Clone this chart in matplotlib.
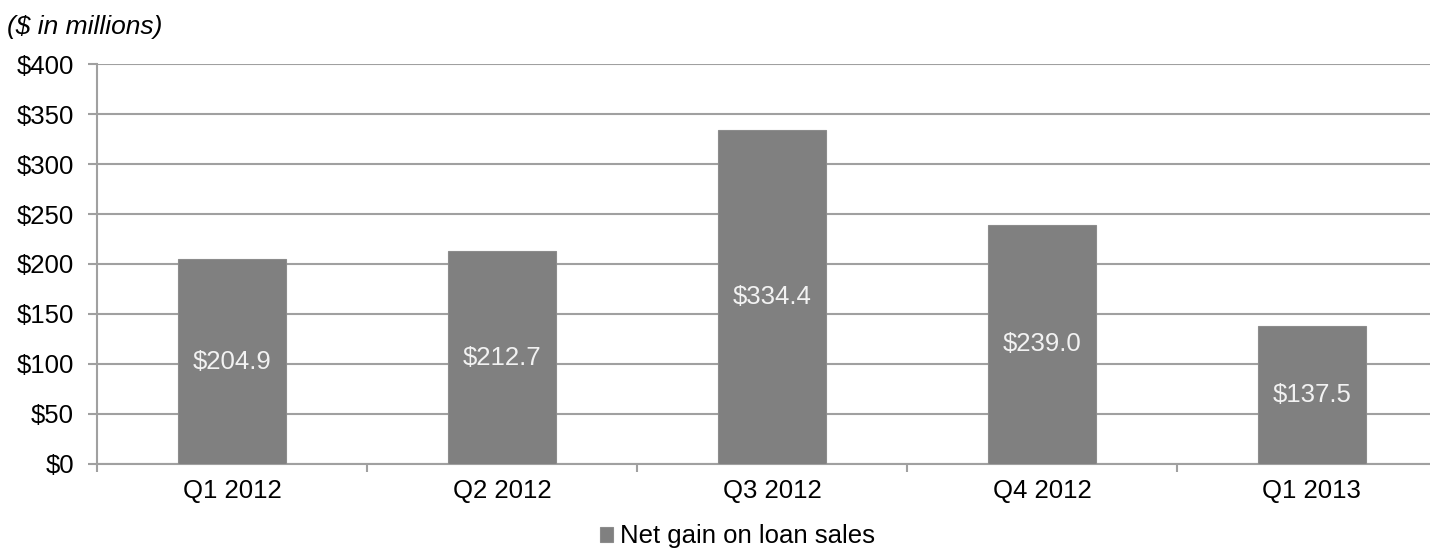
import numpy as np
import matplotlib.pyplot as plt

plt.rcParams['font.family'] = ['Liberation Sans', 'DejaVu Sans']

quarters = ['Q1 2012', 'Q2 2012', 'Q3 2012', 'Q4 2012', 'Q1 2013']
net_gain = [204.9, 212.7, 334.4, 239.0, 137.5]

bar_color = '#808080'
grid_color = '#a0a0a0'
fs = 18.5

fig = plt.figure(figsize=(14.3, 5.48), dpi=100)
# plot area runs slightly past the right edge of the figure
ax = fig.add_axes([0.0678, 0.1533, 0.944, 0.7299])

x = np.arange(len(quarters))
ax.bar(x, net_gain, width=0.4, color=bar_color, edgecolor='#8c8c8c',
       linewidth=0.8, label='Net gain on loan sales', zorder=3)

for xi, v in zip(x, net_gain):
    ax.text(xi, v / 2, f'${v:.1f}', ha='center', va='center',
            color='#f2f2f2', fontsize=fs, zorder=4)

ax.set_xlim(-0.5, len(quarters) - 0.5)
ax.set_ylim(0, 400)
yt = np.arange(0, 401, 50)
ax.set_yticks(yt)
ax.set_yticklabels([f'${int(t)}' for t in yt])
ax.yaxis.grid(True, color=grid_color, linewidth=1.5, zorder=0)

ax.set_xticks(x)
ax.set_xticklabels(quarters)
ax.set_xticks(np.arange(-0.5, len(quarters)), minor=True)
ax.tick_params(axis='x', which='major', length=0, pad=10.5, labelsize=fs)
ax.tick_params(axis='x', which='minor', length=6, width=1.5, color=grid_color)
ax.tick_params(axis='y', length=6.5, width=1.5, color=grid_color, pad=10, labelsize=fs)

for side in ['top', 'right']:
    ax.spines[side].set_visible(False)
for side in ['left', 'bottom']:
    ax.spines[side].set_color(grid_color)
    ax.spines[side].set_linewidth(1.5)

fig.text(0.005, 0.95, '($ in millions)', fontsize=19, style='italic', va='center')

ax.legend(loc='center', bbox_to_anchor=(0.516, 0.021), bbox_transform=fig.transFigure,
          frameon=False, fontsize=fs, handlelength=0.5, handleheight=0.5,
          handletextpad=0.27, borderaxespad=0, borderpad=0)

fig.savefig('out.png', dpi=100)
